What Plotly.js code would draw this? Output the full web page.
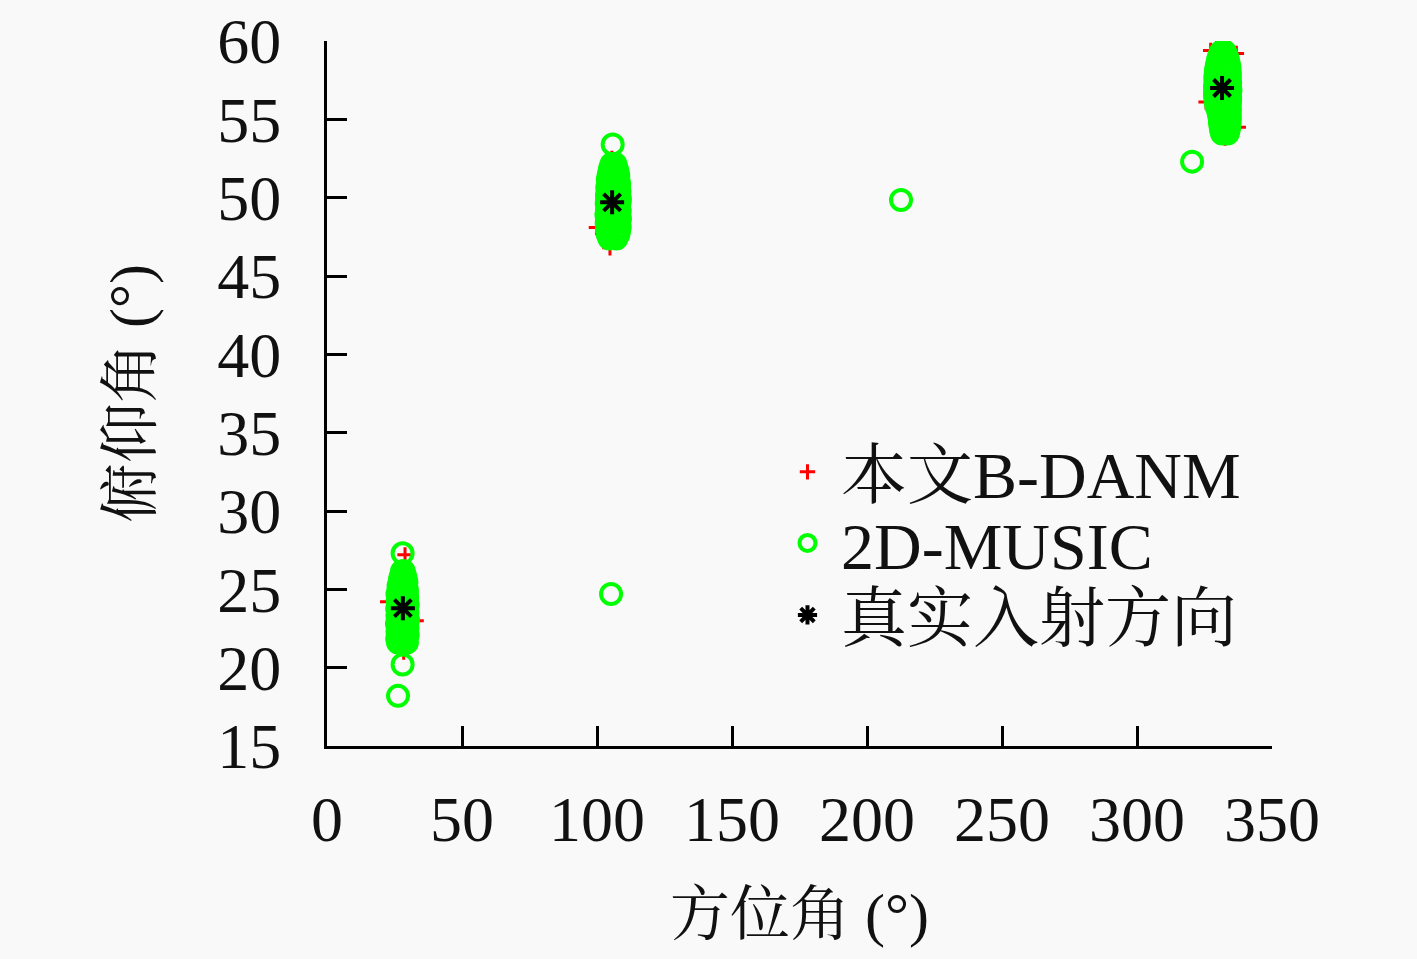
<!DOCTYPE html>
<html>
<head>
<meta charset="utf-8">
<script src="https://cdn.plot.ly/plotly-3.0.1.min.js"></script>
<style>
  html, body { margin: 0; padding: 0; background: #f9f9f9; }
  #chart { width: 1417px; height: 959px; }
</style>
</head>
<body>
<div id="chart"></div>
<script>
// 本文B-DANM estimates (azimuth, elevation)
const danmAz = [28.9, 33.0, 22.5, 28.0, 27.5, 29.0, 28.2, 27.1, 29.3, 28.4, 27.7, 28.8,
  99.8, 104.8, 105.5, 106.2, 104.8, 106.8, 105.3, 104.5, 107.0, 105.9,
  327.3, 325.6, 332.6, 337.5, 331.8, 330.5, 333.0, 331.8, 330.6, 332.8, 336.8];
const danmEl = [27.2, 23.0, 24.2, 26.0, 25.0, 24.0, 23.3, 22.5, 21.6, 21.0, 24.6, 22.2,
  48.1, 46.8, 52.5, 51.0, 50.2, 49.0, 48.5, 47.8, 50.6, 52.0,
  59.4, 56.1, 53.8, 54.5, 59.9, 58.2, 57.5, 56.3, 55.0, 58.8, 59.2];

// 2D-MUSIC estimates, cluster near (28, 24)
const musicAz1 = [
  26.3, 29.6, 26.0, 29.3, 26.5, 29.9, 26.1, 29.5, 26.4, 29.8, 25.9, 29.4, 26.6, 30.0, 26.1, 29.5,
  26.3, 29.8, 26.0, 29.3, 26.5, 29.9, 26.2, 29.4, 26.4, 29.7, 26.1, 29.5, 26.6, 29.6, 26.5, 29.3,
  26.9, 29.4, 27.1, 29.1, 27.5, 28.8, 27.8, 28.4,
  28.0, 28.0, 26.3];
const musicEl1 = [
  21.6, 21.6, 21.85, 21.85, 22.1, 22.1, 22.3, 22.3, 22.55, 22.55, 22.8, 22.8, 23.05, 23.05, 23.3, 23.3,
  23.5, 23.5, 23.75, 23.75, 24.0, 24.0, 24.25, 24.25, 24.5, 24.5, 24.7, 24.7, 24.95, 24.95, 25.2, 25.2,
  25.45, 25.45, 25.7, 25.7, 25.9, 25.9, 26.15, 26.15,
  27.3, 20.2, 18.2];

// 2D-MUSIC estimates, cluster near (106, 50)
const musicAz2 = [
  104.6, 107.2, 104.0, 107.9, 103.7, 108.2, 103.9, 108.4, 103.6, 108.1, 103.8, 108.5, 103.5, 108.2,
  103.7, 108.4, 103.9, 108.1, 103.6, 108.3, 103.8, 108.5, 103.7, 108.2, 104.0, 108.3, 103.8, 108.0,
  104.1, 108.2, 104.0, 107.8, 104.3, 107.9, 104.6, 107.6, 104.9, 107.2, 105.4, 106.8,
  105.8, 105.2, 212.6];
const musicEl2 = [
  47.4, 47.4, 47.65, 47.65, 47.9, 47.9, 48.15, 48.15, 48.4, 48.4, 48.65, 48.65, 48.9, 48.9,
  49.15, 49.15, 49.4, 49.4, 49.65, 49.65, 49.9, 49.9, 50.15, 50.15, 50.4, 50.4, 50.65, 50.65,
  50.9, 50.9, 51.15, 51.15, 51.4, 51.4, 51.65, 51.65, 51.9, 51.9, 52.15, 52.15,
  53.4, 24.7, 49.85];

// 2D-MUSIC estimates, cluster near (332, 57)
const musicAz3 = [
  331.5, 333.6, 331.1, 334.0, 330.9, 334.2, 330.7, 334.3, 330.6, 334.4, 330.3, 334.3, 330.0, 334.4,
  329.4, 334.3, 329.2, 334.4, 329.0, 334.5, 328.9, 334.3, 329.0, 334.6, 328.9, 334.4, 329.1, 334.5,
  329.0, 334.3, 329.1, 334.4, 329.2, 334.3, 329.5, 334.2, 329.8, 333.9, 330.1, 333.6, 330.6, 333.1,
  331.1, 332.6, 320.4];
const musicEl3 = [
  54.1, 54.1, 54.35, 54.35, 54.6, 54.6, 54.85, 54.85, 55.1, 55.1, 55.35, 55.35, 55.6, 55.6,
  55.85, 55.85, 56.1, 56.1, 56.35, 56.35, 56.6, 56.6, 56.85, 56.85, 57.1, 57.1, 57.35, 57.35,
  57.6, 57.6, 57.85, 57.85, 58.1, 58.1, 58.35, 58.35, 58.6, 58.6, 58.85, 58.85, 59.1, 59.1,
  59.3, 59.3, 52.3];

// 真实入射方向 (true directions)
const trueAz = [28.1, 105.6, 331.5];
const trueEl = [23.8, 49.7, 57.0];

const xTicks = [0, 50, 100, 150, 200, 250, 300, 350];
const yTicks = [15, 20, 25, 30, 35, 40, 45, 50, 55, 60];

const musicAz = musicAz1.concat(musicAz2, musicAz3);
const musicEl = musicEl1.concat(musicEl2, musicEl3);

const FONT = "'Liberation Serif', 'Noto Serif CJK SC', 'Noto Sans CJK SC', serif";
const TXT = '#111';

const traces = [
  {
    x: danmAz, y: danmEl, type: 'scatter', mode: 'markers', name: '本文B-DANM', legend: 'legend',
    marker: { symbol: 'cross-thin-open', size: 11, color: '#ff0000', line: { color: '#ff0000', width: 3 } }
  },
  {
    x: musicAz, y: musicEl, type: 'scatter', mode: 'markers', name: '2D-MUSIC', legend: 'legend2',
    marker: { symbol: 'circle-open', size: 20, color: '#00ff00', line: { color: '#00ff00', width: 4 } }
  },
  {
    x: trueAz, y: trueEl, type: 'scatter', mode: 'markers', name: '真实入射方向', legend: 'legend3',
    marker: { symbol: 'asterisk-open', size: 20, color: '#000000', line: { color: '#000000', width: 4 } }
  }
];

function leg(y) {
  return {
    x: 0.473, y: y, xanchor: 'left', yanchor: 'middle',
    bgcolor: 'rgba(0,0,0,0)', borderwidth: 0,
    font: { family: FONT, size: 66, color: TXT },
    itemwidth: 57
  };
}

const layout = {
  width: 1417, height: 959,
  paper_bgcolor: '#f9f9f9', plot_bgcolor: '#f9f9f9',
  margin: { l: 327, r: 145, t: 41, b: 213 },
  font: { family: FONT, size: 60, color: TXT },
  showlegend: true,
  legend: leg(0.3887),
  legend2: leg(0.2879),
  legend3: leg(0.1858),
  xaxis: {
    range: [0, 350], tickvals: xTicks, ticktext: xTicks.map(String),
    showline: true, linecolor: '#000', linewidth: 3, mirror: false,
    ticks: 'inside', ticklen: 20, tickwidth: 3, tickcolor: '#000',
    showgrid: false, zeroline: false, ticklabelstandoff: 15,
    tickfont: { family: FONT, size: 64, color: TXT },
    title: { text: '方位角 (°)', font: { family: FONT, size: 60, color: TXT }, standoff: 40 }
  },
  yaxis: {
    range: [15, 60], tickvals: yTicks, ticktext: yTicks.map(String),
    showline: true, linecolor: '#000', linewidth: 3, mirror: false,
    ticks: 'inside', ticklen: 20, tickwidth: 3, tickcolor: '#000',
    showgrid: false, zeroline: false, ticklabelstandoff: 30,
    tickfont: { family: FONT, size: 64, color: TXT },
    title: { text: '俯仰角 (°)', font: { family: FONT, size: 60, color: TXT }, standoff: 47 }
  }
};

Plotly.newPlot('chart', traces, layout, { displayModeBar: false, staticPlot: true });
</script>
</body>
</html>
